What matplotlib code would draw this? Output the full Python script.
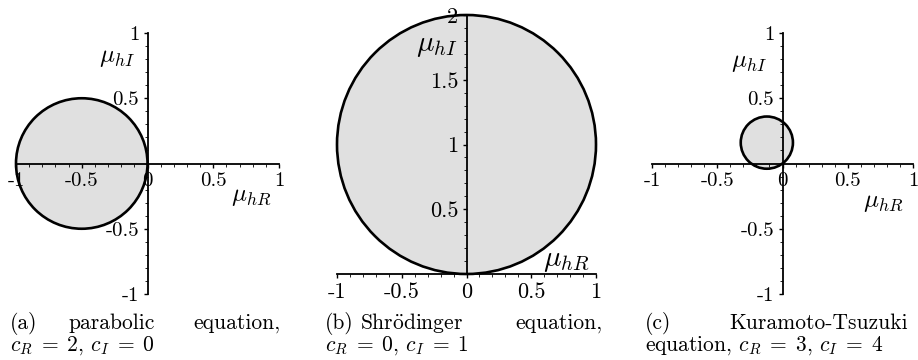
import matplotlib
matplotlib.use('Agg')
import matplotlib.pyplot as plt
from matplotlib.patches import Circle
from matplotlib.ticker import MultipleLocator, FixedLocator, FixedFormatter

plt.rcParams['font.family'] = ['cmr10', 'DejaVu Serif']
plt.rcParams['mathtext.fontset'] = 'cm'
plt.rcParams['axes.unicode_minus'] = False

# --- data: the stability disc of each equation ---
c_R = [2, 0, 3]
c_I = [0, 1, 4]
center_re = [-0.5, 0.0, -0.12]
center_im = [0.0, 1.0, 0.16]
radius = [0.5, 1.0, 0.2]

x_ticks = [-1, -0.5, 0, 0.5, 1]
x_labels = ['-1', '-0.5', '0', '0.5', '1']
y_ticks_ab = [[-1, -0.5, 0.5, 1], [0.5, 1, 1.5, 2], [-1, -0.5, 0.5, 1]]
y_labels_ab = [['-1', '-0.5', '0.5', '1'], ['0.5', '1', '1.5', '2'], ['-1', '-0.5', '0.5', '1']]
y_limits = [(-1, 1), (0, 2), (-1, 1)]

W, H = 918, 360
fig = plt.figure(figsize=(W / 100, H / 100), dpi=100)

def px_axes(l, r, t, b):
    return fig.add_axes([l / W, 1 - b / H, (r - l) / W, (b - t) / H])

# pixel boxes of the three plots (left, right, top, bottom)
boxes = [(16, 279, 33, 294), (337, 596, 15, 274), (652, 913, 33, 294)]
tick_size = [15, 16, 15]
mu_size = [18, 21, 18]
mu_I_pos = [(-0.23, 0.81), (-0.23, 1.76), (-0.26, 0.77)]
mu_R_pos = [(0.79, -0.26), (0.77, 0.10), (0.77, -0.30)]

for i in range(3):
    ax = px_axes(*boxes[i])
    ax.set_xlim(-1, 1)
    ax.set_ylim(*y_limits[i])
    ax.patch.set_alpha(0)
    for s in ['top', 'right']:
        ax.spines[s].set_visible(False)
    ax.spines['left'].set_position(('data', 0))
    ax.spines['bottom'].set_position(('data', 0))
    ax.spines['left'].set_linewidth(1.3)
    ax.spines['bottom'].set_linewidth(1.3)
    ax.spines['left'].set_zorder(3)
    ax.spines['bottom'].set_zorder(3)

    disc = Circle((center_re[i], center_im[i]), radius[i], facecolor='#e0e0e0',
                  edgecolor='black', linewidth=1.9, zorder=1, clip_on=False)
    ax.add_patch(disc)

    ax.xaxis.set_major_locator(FixedLocator(x_ticks))
    ax.xaxis.set_major_formatter(FixedFormatter(x_labels))
    ax.yaxis.set_major_locator(FixedLocator(y_ticks_ab[i]))
    ax.yaxis.set_major_formatter(FixedFormatter(y_labels_ab[i]))
    ax.xaxis.set_minor_locator(MultipleLocator(0.1))
    ax.yaxis.set_minor_locator(MultipleLocator(0.1))
    ax.tick_params(which='major', direction='out', length=3, width=1,
                   labelsize=tick_size[i], pad=3)
    ax.tick_params(which='minor', direction='out', length=2, width=0.6)

    ax.text(*mu_I_pos[i], r'$\mu_{hI}$', fontsize=mu_size[i], ha='center', va='center')
    ax.text(*mu_R_pos[i], r'$\mu_{hR}$', fontsize=mu_size[i], ha='center', va='center')

# --- captions ---
cap_fs = 15.5
y1 = 1 - 329 / H
y2 = 1 - 351 / H
eq = r'$c_R\;=\;%d$, $c_I\;=\;%d$'

def cap(x, y, s, ha='left'):
    fig.text(x / W, y, s, fontsize=cap_fs, ha=ha, va='baseline')

cap(10, y1, '(a)')
cap(68, y1, 'parabolic')
cap(280, y1, 'equation,', 'right')
cap(10, y2, eq % (c_R[0], c_I[0]))

cap(325, y1, '(b)')
cap(360, y1, r'$\mathrm{Shr\ddot{o}dinger}$')
cap(603, y1, 'equation,', 'right')
cap(325, y2, eq % (c_R[1], c_I[1]))

cap(645, y1, '(c)')
cap(908, y1, 'Kuramoto-Tsuzuki', 'right')
cap(645, y2, 'equation, ' + eq % (c_R[2], c_I[2]))

fig.savefig('out.png', dpi=100)
